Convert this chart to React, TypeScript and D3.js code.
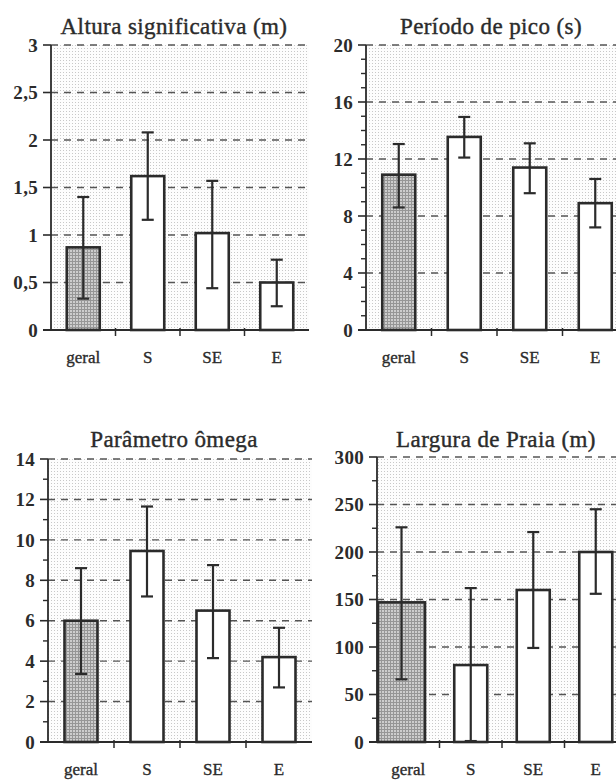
import React from 'react';
import * as d3 from 'd3';

const categories = ['geral', 'S', 'SE', 'E'];

const alturaMean = [0.87, 1.62, 1.02, 0.5];
const alturaLow = [0.33, 1.16, 0.44, 0.25];
const alturaHigh = [1.4, 2.08, 1.57, 0.74];

const periodoMean = [10.9, 13.55, 11.4, 8.9];
const periodoLow = [8.6, 12.1, 9.6, 7.2];
const periodoHigh = [13.05, 14.95, 13.1, 10.6];

const omegaMean = [6.0, 9.45, 6.5, 4.2];
const omegaLow = [3.37, 7.2, 4.15, 2.7];
const omegaHigh = [8.6, 11.65, 8.75, 5.65];

const larguraMean = [147, 81, 160, 200];
const larguraLow = [66, 1, 99, 156];
const larguraHigh = [226, 162, 221, 245];

const alturaTicks = [0, 0.5, 1, 1.5, 2, 2.5, 3];
const periodoTicks = [0, 4, 8, 12, 16, 20];
const omegaTicks = [0, 2, 4, 6, 8, 10, 12, 14];
const larguraTicks = [0, 50, 100, 150, 200, 250, 300];

const panels = [
  {
    title: 'Altura significativa (m)', mean: alturaMean, low: alturaLow, high: alturaHigh,
    ticks: alturaTicks, minor: 0, left: 51, top: 45, bottom: 330, band: 64.5, titleY: 34, wideFirst: false,
  },
  {
    title: 'Período de pico (s)', mean: periodoMean, low: periodoLow, high: periodoHigh,
    ticks: periodoTicks, minor: 1, left: 366, top: 45, bottom: 330, band: 65.5, titleY: 34, wideFirst: false,
  },
  {
    title: 'Parâmetro ômega', mean: omegaMean, low: omegaLow, high: omegaHigh,
    ticks: omegaTicks, minor: 1, left: 48, top: 459, bottom: 742, band: 66, titleY: 447, wideFirst: false,
  },
  {
    title: 'Largura de Praia (m)', mean: larguraMean, low: larguraLow, high: larguraHigh,
    ticks: larguraTicks, minor: 25, left: 377, top: 457, bottom: 742, band: 62.5, titleY: 447, wideFirst: true,
  },
];

const ink = '#2b2b2b';
const fmt = (v: number) => String(v).replace('.', ',');

function Panel({ p }: { p: any }) {
  const maxV = p.ticks[p.ticks.length - 1];
  const right = p.left + p.band * categories.length;
  const y = d3.scaleLinear().domain([0, maxV]).range([p.bottom, p.top]);
  const x = d3.scaleBand().domain(categories).range([p.left, right]).paddingInner(0).paddingOuter(0);
  const barW = 33;
  const minorTicks = p.minor ? d3.range(0, maxV + 1e-9, p.minor).filter((v: number) => !p.ticks.includes(v)) : [];

  return (
    <g>
      <rect x={p.left} y={p.top} width={right - p.left} height={p.bottom - p.top} fill="url(#dots)" />
      {p.ticks.filter((t: number) => t > 0).map((t: number) => (
        <line key={'g' + t} x1={p.left} x2={right} y1={y(t)} y2={y(t)}
          stroke="#555" strokeWidth={1.4} strokeDasharray="7 6" />
      ))}
      {categories.map((c, i) => {
        const cx = (x(c) as number) + x.bandwidth() / 2;
        let bx = cx - barW / 2;
        let bw = barW;
        if (p.wideFirst && i === 0) {
          bx = p.left + 1;
          bw = 47;
        }
        const ecx = bx + bw / 2;
        return (
          <g key={c}>
            <rect x={bx} y={y(p.mean[i])} width={bw} height={p.bottom - y(p.mean[i])}
              fill={i === 0 ? 'url(#dense)' : '#fff'} stroke={ink} strokeWidth={2.6} />
            <line x1={ecx} x2={ecx} y1={y(p.low[i])} y2={y(p.high[i])} stroke={ink} strokeWidth={2.2} />
            <line x1={ecx - 6} x2={ecx + 6} y1={y(p.low[i])} y2={y(p.low[i])} stroke={ink} strokeWidth={2.2} />
            <line x1={ecx - 6} x2={ecx + 6} y1={y(p.high[i])} y2={y(p.high[i])} stroke={ink} strokeWidth={2.2} />
            <text x={cx} y={p.bottom + 33} textAnchor="middle" fontSize={17}
              fill={ink} stroke={ink} strokeWidth={0.35}>{c}</text>
          </g>
        );
      })}
      {/* axes */}
      <line x1={p.left} x2={p.left} y1={p.top} y2={p.bottom} stroke={ink} strokeWidth={1.8} />
      <line x1={p.left - 8} x2={right} y1={p.bottom} y2={p.bottom} stroke={ink} strokeWidth={1.8} />
      {categories.slice(1).map(c => (
        <line key={'xt' + c} x1={x(c) as number} x2={x(c) as number} y1={p.bottom - 2} y2={p.bottom + 6}
          stroke={ink} strokeWidth={1.5} />
      ))}
      {p.ticks.map((t: number) => (
        <g key={'yt' + t}>
          <line x1={p.left - 8} x2={p.left} y1={y(t)} y2={y(t)} stroke={ink} strokeWidth={1.6} />
          <text x={p.left - 13} y={y(t)} dy="0.35em" textAnchor="end" fontSize={19} fontWeight="bold"
            letterSpacing={0.3} fill={ink}>{fmt(t)}</text>
        </g>
      ))}
      {minorTicks.map((t: number) => (
        <line key={'mt' + t} x1={p.left - 5} x2={p.left} y1={y(t)} y2={y(t)} stroke={ink} strokeWidth={1.4} />
      ))}
      <text x={(p.left + right) / 2 - 6} y={p.titleY} textAnchor="middle" fontSize={23}
        letterSpacing={0.4} fill={ink} stroke={ink} strokeWidth={0.4}>{p.title}</text>
    </g>
  );
}

export default function App() {
  return (
    <svg width={616} height={780} style={{ position: 'absolute', left: 0, top: 0, background: '#fff' }}
      fontFamily="'Liberation Serif', 'DejaVu Serif', serif">
      <defs>
        <pattern id="dots" width={3} height={3} patternUnits="userSpaceOnUse">
          <rect width={3} height={3} fill="#fdfdfd" />
          <rect width={1} height={1} fill="#c8c8c8" />
        </pattern>
        <pattern id="dense" width={3} height={3} patternUnits="userSpaceOnUse">
          <rect width={3} height={3} fill="#969696" />
          <rect x={1} y={1} width={2} height={2} fill="#cdcdcd" />
        </pattern>
      </defs>
      {panels.map((p, i) => <Panel key={i} p={p} />)}
    </svg>
  );
}
